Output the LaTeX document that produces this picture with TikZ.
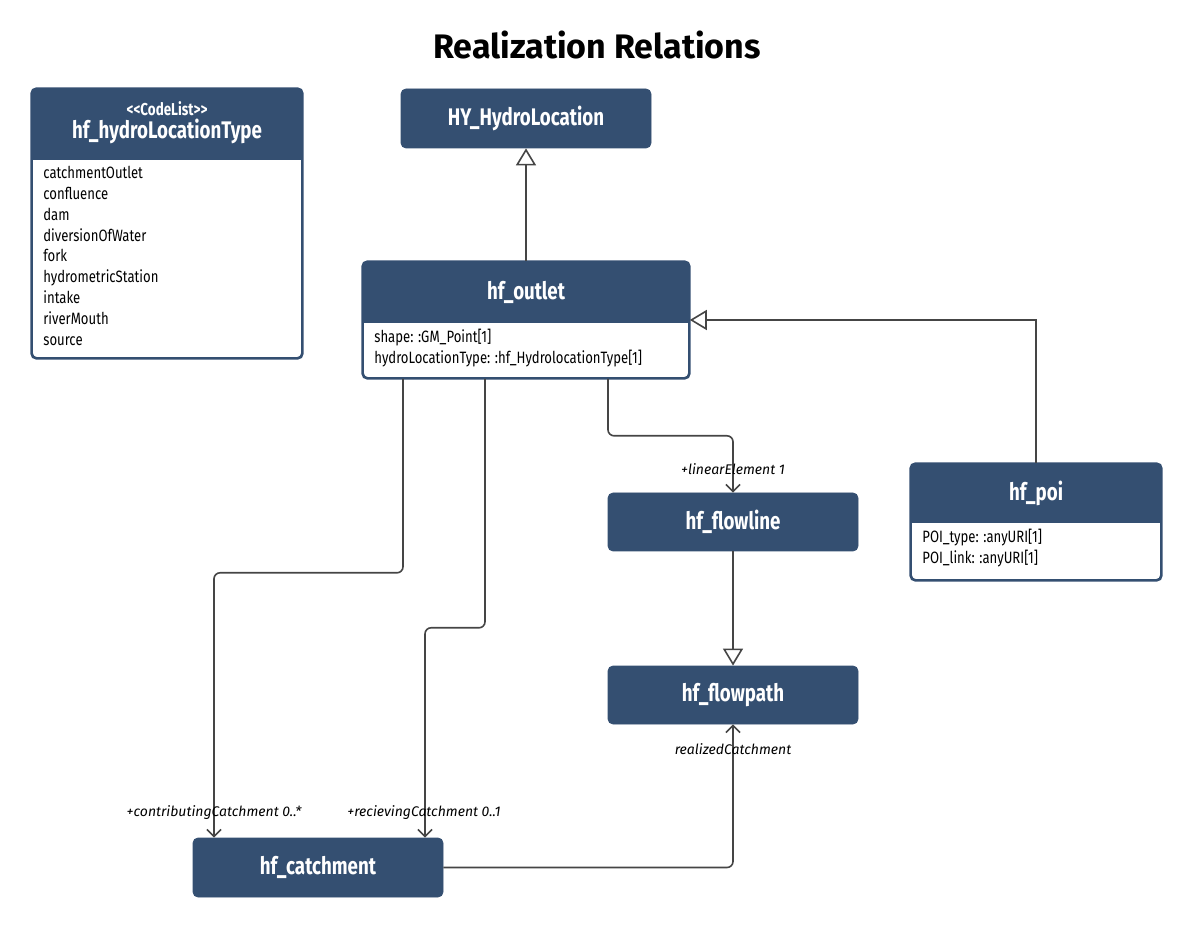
\documentclass[tikz,border=0pt]{standalone}
\usepackage{fontspec}
\setmainfont{Fira Sans}
\newfontfamily\condfont{Fira Sans}[FakeStretch=0.78]
\newfontfamily\attrfont{Fira Sans}[FakeStretch=0.80]
\usetikzlibrary{arrows.meta,calc}
\definecolor{umlblue}{HTML}{344F71}
\definecolor{linegray}{HTML}{454545}

\begin{document}
\begin{tikzpicture}[x=0.5pt,y=-0.5pt,
  headbox/.style={fill=umlblue,draw=umlblue,rounded corners=2.5pt,text=white,
    inner sep=0pt,font=\condfont\bfseries\fontsize{12}{14}\selectfont},
  classbox/.style={fill=white,draw=umlblue,line width=.8pt,rounded corners=2.5pt,inner sep=0pt},
  headtext/.style={text=white,inner sep=0pt,font=\condfont\bfseries\fontsize{12}{14}\selectfont},
  attr/.style={inner sep=0pt,align=left,font=\attrfont\fontsize{8.2}{10.4}\selectfont},
  rolelbl/.style={inner sep=0pt,font=\itshape\fontsize{7}{8}\selectfont},
  gen/.style={draw=linegray,line width=.8pt,-{Triangle[open,length=8.5pt,width=10pt]}},
  assoc/.style={draw=linegray,line width=.8pt,rounded corners=3pt,
    -{Straight Barb[length=3.5pt,width=7pt]}}]
\useasboundingbox (0,0) rectangle (1193,929);

% title
\node[font=\bfseries\fontsize{17}{20}\selectfont,inner sep=0pt] (title) at (597,45) {Realization Relations};

% plain classes
\node[headbox,minimum width=125pt,minimum height=29.5pt] (hyloc) at (526,118.5) {HY\_HydroLocation};
\node[headbox,minimum width=125pt,minimum height=29pt] (flowline) at (733,522) {hf\_flowline};
\node[headbox,minimum width=125pt,minimum height=29pt] (flowpath) at (733,695) {hf\_flowpath};
\node[headbox,minimum width=125pt,minimum height=29.5pt] (catchment) at (318,867.5) {hf\_catchment};

% classes with attributes
\node[classbox,minimum width=135pt,minimum height=134.5pt] (codelist) at (167,223.5) {};
\node[classbox,minimum width=163pt,minimum height=58pt] (outlet) at (526,320) {};
\node[classbox,minimum width=125pt,minimum height=58pt] (poi) at (1036,522) {};
\foreach \n/\yh in {codelist/160,outlet/323,poi/523}{
  \begin{scope}
    \clip[rounded corners=2.5pt] (\n.north west) rectangle (\n.south east);
    \fill[umlblue] (\n.north west) rectangle (\n.east |- 0,\yh);
  \end{scope}
  \draw[umlblue,line width=.8pt,rounded corners=2.5pt] (\n.north west) rectangle (\n.south east);
}
\node[headtext,font=\condfont\bfseries\fontsize{8.6}{10}\selectfont] (codelist-st) at (167,109) {<{}<CodeList>{}>};
\node[headtext] (codelist-t) at (167,131) {hf\_hydroLocationType};
\node[attr,anchor=north west] (codelist-a) at (43,166)
  {catchmentOutlet\\confluence\\dam\\diversionOfWater\\fork\\hydrometricStation\\intake\\riverMouth\\source};
\node[headtext] (outlet-t) at (526,292) {hf\_outlet};
\node[attr,anchor=north west] (outlet-a) at (374,329)
  {shape: :GM\_Point[1]\\hydroLocationType: :hf\_HydrolocationType[1]};
\node[headtext] (poi-t) at (1036,493) {hf\_poi};
\node[attr,anchor=north west] (poi-a) at (922,529)
  {POI\_type: :anyURI[1]\\POI\_link: :anyURI[1]};

% generalizations
\draw[gen] (outlet.north) -- (hyloc.south);
\draw[gen] (poi.north) |- (outlet.east);
\draw[gen] (flowline.south) -- (flowpath.north);

% associations
\draw[assoc] ($(outlet.south)+(82,0)$) -- ++(0,57) -| (flowline.north);
\draw[assoc] ($(outlet.south)+(-123,0)$) -- ++(0,194) -| ($(catchment.north)+(-104,0)$);
\draw[assoc] ($(outlet.south)+(-41,0)$) -- ++(0,249) -| ($(catchment.north)+(107,0)$);
\draw[assoc] (catchment.east) -| (flowpath.south);

\node[rolelbl] (lbl-lin) at ($(flowline.north)+(0,-23)$) {+linearElement 1};
\node[rolelbl] (lbl-con) at ($(catchment.north)+(-104,-25)$) {+contributingCatchment 0..*};
\node[rolelbl] (lbl-rec) at ($(catchment.north)+(106,-25)$) {+recievingCatchment 0..1};
\node[rolelbl] (lbl-real) at ($(flowpath.south)+(0,25)$) {realizedCatchment};
\end{tikzpicture}
\end{document}
